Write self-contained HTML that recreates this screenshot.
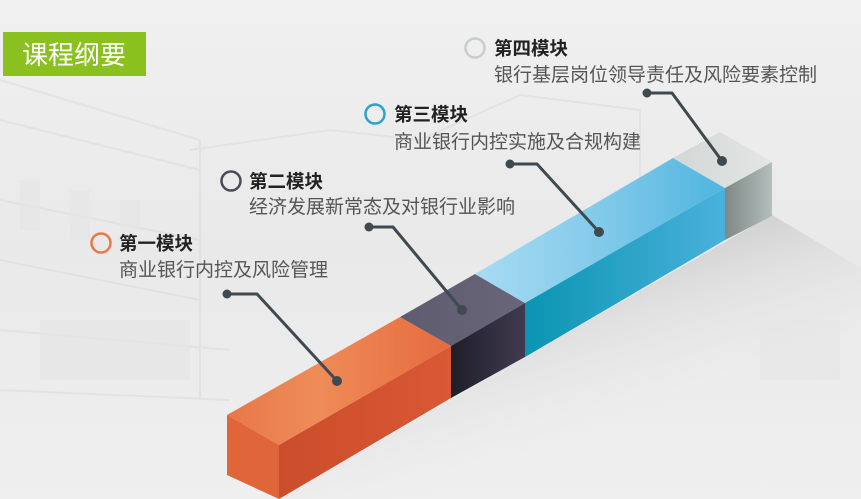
<!DOCTYPE html>
<html><head><meta charset="utf-8"><style>
html,body{margin:0;padding:0;background:#efefef;}
body{width:861px;height:499px;overflow:hidden;position:relative;font-family:"Liberation Sans","Noto Sans CJK SC",sans-serif;}
svg{position:absolute;left:0;top:0;}
</style></head><body>
<svg width="861" height="499" viewBox="0 0 861 499">
<defs>
<linearGradient id="bg" x1="0" y1="0" x2="0" y2="1"><stop offset="0" stop-color="#f0f0f0"/><stop offset="0.5" stop-color="#e9e9e9"/><stop offset="1" stop-color="#efefef"/></linearGradient>
<linearGradient id="sh" x1="0.2" y1="0.2" x2="0.6" y2="0.8"><stop offset="0" stop-color="#bdbbbb"/><stop offset="0.5" stop-color="#dedddd" stop-opacity="0.7"/><stop offset="1" stop-color="#efefef" stop-opacity="0"/></linearGradient>
<linearGradient id="oT" x1="0" y1="0" x2="1" y2="0"><stop offset="0" stop-color="#e8774a"/><stop offset="0.4" stop-color="#ee8c57"/><stop offset="1" stop-color="#e66b3d"/></linearGradient>
<linearGradient id="oF" x1="0" y1="0" x2="1" y2="0"><stop offset="0" stop-color="#cc4d2b"/><stop offset="1" stop-color="#d95835"/></linearGradient>
<linearGradient id="dT" x1="0" y1="0" x2="1" y2="0"><stop offset="0" stop-color="#5f5b70"/><stop offset="1" stop-color="#6a6679"/></linearGradient>
<linearGradient id="dF" x1="0" y1="0" x2="1" y2="0"><stop offset="0" stop-color="#1e1e28"/><stop offset="1" stop-color="#403b50"/></linearGradient>
<linearGradient id="bT" x1="0" y1="0" x2="1" y2="0"><stop offset="0" stop-color="#a8dbf2"/><stop offset="0.5" stop-color="#82caea"/><stop offset="1" stop-color="#4fb5df"/></linearGradient>
<linearGradient id="bF" x1="0" y1="0" x2="1" y2="0"><stop offset="0" stop-color="#0a95b2"/><stop offset="1" stop-color="#4ab1dc"/></linearGradient>
<linearGradient id="gT" x1="0" y1="0" x2="1" y2="0"><stop offset="0" stop-color="#d2d7d6"/><stop offset="1" stop-color="#e3e6e5"/></linearGradient>
<linearGradient id="gF" x1="0" y1="0" x2="1" y2="0"><stop offset="0" stop-color="#7e8986"/><stop offset="1" stop-color="#b4bebc"/></linearGradient>
</defs>
<rect width="861" height="499" fill="url(#bg)"/>
<g stroke="#e0e0e0" stroke-width="2" fill="none" opacity="0.8">
<path d="M0 80 L200 140 L200 400 M0 120 L200 170 M0 200 L200 240 M0 260 L200 300"/>
<path d="M190 150 L330 130 L420 140 L520 95 L640 110 L640 300"/>
<path d="M0 330 L230 350 M0 390 L230 400"/>
</g>
<g fill="#e6e6e6" opacity="0.7">
<rect x="20" y="180" width="20" height="50"/><rect x="70" y="190" width="20" height="50"/><rect x="120" y="200" width="20" height="50"/>
<rect x="40" y="320" width="150" height="60"/>
<rect x="760" y="320" width="80" height="60"/>
</g>
<polygon points="279,499 772,215 861,268 861,499" fill="url(#sh)"/>
<polygon points="227,415 400,317 451,346 279,445" fill="url(#oT)"/>
<polygon points="279,445 451,346 451,398 279,499" fill="url(#oF)"/>
<polygon points="227,415 279,445 279,499 227,475" fill="#e0663a"/>
<polygon points="400,317 475,274 525,303 451,346" fill="url(#dT)"/>
<polygon points="451,346 525,303 525,357 451,398" fill="url(#dF)"/>
<polygon points="475,274 673,158 725,188 525,303" fill="url(#bT)"/>
<polygon points="525,303 725,188 725,240 525,357" fill="url(#bF)"/>
<polygon points="673,158 720,132 772,162 725,188" fill="url(#gT)"/>
<polygon points="725,188 772,162 772,216 725,240" fill="url(#gF)"/>
<g stroke="#3e4a50" stroke-width="3" fill="none">
<polyline points="227,294 257,294 337,381"/>
<polyline points="369,227 393,227 462,310"/>
<polyline points="510,164 537,164 599,232"/>
<polyline points="647,93 672,93 722,161"/>
</g>
<g fill="#3e4a50">
<circle cx="227" cy="294" r="4.5"/><circle cx="337" cy="381" r="5"/>
<circle cx="369" cy="227" r="4.5"/><circle cx="462" cy="310" r="5"/>
<circle cx="510" cy="164" r="4.5"/><circle cx="599" cy="232" r="5"/>
<circle cx="647" cy="93" r="4.5"/><circle cx="722" cy="161" r="5"/>
</g>
<rect x="3" y="32" width="143" height="44" fill="#8bc11f"/>
<text x="22" y="64" font-size="26" fill="#fff" font-family="Liberation Sans,Noto Sans CJK SC,sans-serif">课程纲要</text>
<circle cx="101" cy="243" r="9.5" fill="none" stroke="#e8774a" stroke-width="2.5"/>
<circle cx="231" cy="181" r="9.5" fill="none" stroke="#4c4a5a" stroke-width="2.5"/>
<circle cx="375" cy="114" r="9.5" fill="none" stroke="#2aa3c8" stroke-width="2.5"/>
<circle cx="475" cy="48" r="9.5" fill="none" stroke="#c9cccc" stroke-width="2.5"/>
<g font-family="Liberation Sans,Noto Sans CJK SC,sans-serif">
<text x="119" y="250" font-size="18.5" font-weight="bold" fill="#222">第一模块</text>
<text x="119" y="276" font-size="19" fill="#555">商业银行内控及风险管理</text>
<text x="249" y="188" font-size="18.5" font-weight="bold" fill="#222">第二模块</text>
<text x="249" y="213" font-size="19" fill="#555">经济发展新常态及对银行业影响</text>
<text x="394" y="121" font-size="18.5" font-weight="bold" fill="#222">第三模块</text>
<text x="394" y="148" font-size="19" fill="#555">商业银行内控实施及合规构建</text>
<text x="494" y="55" font-size="18.5" font-weight="bold" fill="#222">第四模块</text>
<text x="494" y="81" font-size="19" fill="#555">银行基层岗位领导责任及风险要素控制</text>
</g>
</svg>
</body></html>
